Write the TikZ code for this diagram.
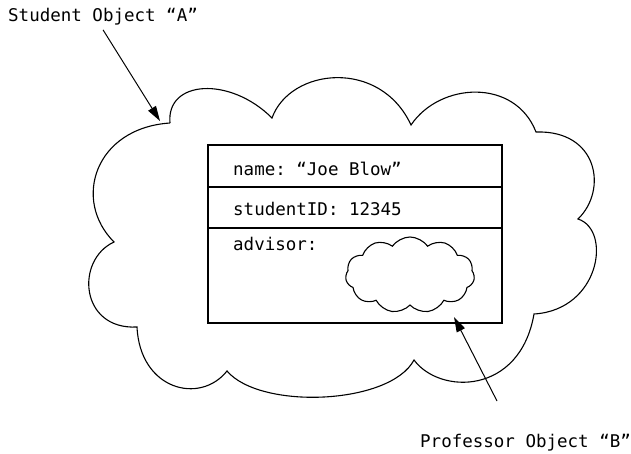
\documentclass[tikz,border=0pt]{standalone}
\usepackage{fontspec}
\setmonofont{DejaVu Sans Mono}
\usepackage{tikz}
\usetikzlibrary{arrows.meta, positioning, shapes.symbols}

\begin{document}
\begin{tikzpicture}[
  x=1pt, y=-1pt,
  every node/.style={font=\ttfamily\fontsize{17.5}{20}\selectfont, inner sep=0pt},
  field/.style={rectangle, draw, line width=1.4pt, outer sep=0pt,
                minimum width=294pt, anchor=north},
  tag/.style={anchor=base west},
  pointer/.style={-{Triangle[length=15pt, width=9pt]}, line width=1pt},
  blob/.style={line width=1.1pt}
]
  \useasboundingbox (0,0) rectangle (631,454);

  % outer cloud: the Student object
  \coordinate (c1)  at (170,123);
  \coordinate (c2)  at (272,118);
  \coordinate (c3)  at (411,125);
  \coordinate (c4)  at (536,132);
  \coordinate (c5)  at (578,219);
  \coordinate (c6)  at (534,314);
  \coordinate (c7)  at (414,360);
  \coordinate (c8)  at (227,371);
  \coordinate (c9)  at (137,327);
  \coordinate (c10) at (114,242);
  \draw[blob] (c1) .. controls (166,80) and (230,76) .. (c2)
    .. controls (290,68) and (380,58) .. (c3)
    .. controls (440,82) and (515,78) .. (c4)
    .. controls (598,130) and (608,190) .. (c5)
    .. controls (612,230) and (600,310) .. (c6)
    .. controls (520,395) and (440,395) .. (c7)
    .. controls (390,405) and (260,410) .. (c8)
    .. controls (200,405) and (140,390) .. (c9)
    .. controls (80,330) and (75,260) .. (c10)
    .. controls (72,200) and (95,128) .. (c1);

  % the object's fields
  \node[field, minimum height=42pt] (nameRow) at (355,145) {};
  \node[field, minimum height=41pt, below=0pt of nameRow] (idRow) {};
  \node[field, minimum height=95pt, below=0pt of idRow] (advisorRow) {};

  \node[tag] (nameText)    at (233,176) {name: “Joe Blow”};
  \node[tag] (idText)      at (233,216) {studentID: 12345};
  \node[tag] (advisorText) at (233,251) {advisor:};

  % inner cloud: the Professor object
  \node[cloud, draw, blob, cloud puffs=11, cloud puff arc=110, aspect=1.7,
        minimum width=129pt, minimum height=76pt] (advisorCloud) at (410,275) {};

  % captions and pointers
  \node[tag] (studentLabel) at (8,22) {Student Object “A”};
  \node[tag] (profLabel)    at (420,447) {Professor Object “B”};

  \coordinate (hitA)  at (160,121);
  \coordinate (tailB) at (497,401);
  \coordinate (hitB)  at (454,317);

  \draw[pointer] ([yshift=-4pt]studentLabel.south) -- (hitA);
  \draw[pointer] (tailB) -- (hitB);
\end{tikzpicture}
\end{document}
